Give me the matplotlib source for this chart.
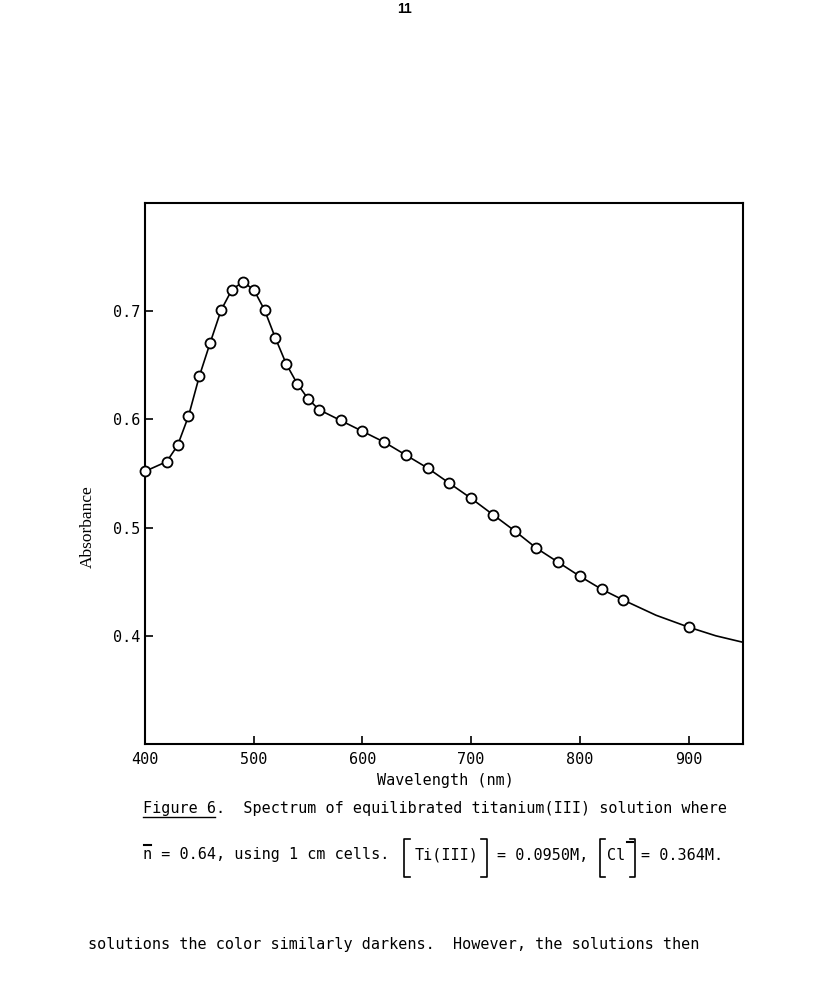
import numpy as np
import matplotlib
matplotlib.use("Agg")
import matplotlib.pyplot as plt
from matplotlib.lines import Line2D

# measured points (open circles)
WL = [400, 420, 430, 440, 450, 460, 470, 480, 490, 500, 510, 520, 530, 540, 550, 560,
      580, 600, 620, 640, 660, 680, 700, 720, 740, 760, 780, 800, 820, 840, 900]
ABS = [0.552, 0.561, 0.576, 0.603, 0.640, 0.671, 0.701, 0.720, 0.727, 0.720, 0.701, 0.675,
       0.651, 0.633, 0.619, 0.609, 0.599, 0.589, 0.579, 0.567, 0.555, 0.541, 0.527, 0.512,
       0.497, 0.481, 0.468, 0.455, 0.443, 0.433, 0.408]
# extra points of the drawn curve (no marker)
CURVE_WL = [870, 925, 950]
CURVE_ABS = [0.419, 0.400, 0.394]

XTICKS = [400, 500, 600, 700, 800, 900]
YTICKS = [0.4, 0.5, 0.6, 0.7]

W, H = 818, 986
MONO = "DejaVu Sans Mono"
FS = 10.9


def px(x, y):
    return x / W, 1 - y / H


def pline(fig, xs, ys, lw=1.2):
    fx = [x / W for x in xs]
    fy = [1 - y / H for y in ys]
    fig.add_artist(Line2D(fx, fy, transform=fig.transFigure, color="k", lw=lw))


def bracket(fig, x, y0, y1, side, arm=6):
    d = arm if side == "left" else -arm
    pline(fig, [x + d, x, x, x + d], [y0, y0, y1, y1])


fig = plt.figure(figsize=(W / 100, H / 100), dpi=100)
ax = fig.add_axes([145 / W, 1 - 744 / H, (743 - 145) / W, (744 - 203) / H])

lw_ = sorted(zip(WL + CURVE_WL, ABS + CURVE_ABS))
ax.plot([p[0] for p in lw_], [p[1] for p in lw_], color="k", lw=1.2, zorder=2)
ax.plot(WL, ABS, ls="", marker="o", ms=7.2, mfc="white", mec="k", mew=1.3,
        zorder=3, clip_on=False)

ax.set_xlim(400, 950)
ax.set_ylim(0.30, 0.80)
ax.set_xticks(XTICKS)
ax.set_yticks(YTICKS)
ax.set_yticklabels([f"{v:.1f}" for v in YTICKS])
ax.tick_params(direction="in", length=6, width=1.2, pad=6, labelsize=FS)
ax.tick_params(axis="y", pad=3)
for lab in ax.get_xticklabels() + ax.get_yticklabels():
    lab.set_family(MONO)
for s in ax.spines.values():
    s.set_linewidth(1.5)

fig.text(*px(445, 780), "Wavelength (nm)", family=MONO, fontsize=FS, ha="center", va="center")
fig.text(*px(88, 527), "Absorbance", family="Liberation Serif", fontsize=12.5,
         rotation=90, ha="center", va="center")

# caption
y1 = 808
fig.text(*px(143, y1), "Figure 6.  Spectrum of equilibrated titanium(III) solution where",
         family=MONO, fontsize=FS, ha="left", va="center")
pline(fig, [143, 215], [y1 + 9, y1 + 9], lw=1.0)

y2 = 855
fig.text(*px(143, y2), "n = 0.64, using 1 cm cells.", family=MONO, fontsize=FS,
         ha="left", va="center")
pline(fig, [144, 151], [y2 - 10, y2 - 10], lw=1.5)
bracket(fig, 404, y2 - 16, y2 + 22, "left")
fig.text(*px(415, y2), "Ti(III)", family=MONO, fontsize=FS, ha="left", va="center")
bracket(fig, 487, y2 - 16, y2 + 22, "right")
fig.text(*px(497, y2), "= 0.0950M,", family=MONO, fontsize=FS, ha="left", va="center")
bracket(fig, 600, y2 - 16, y2 + 22, "left", arm=5)
fig.text(*px(607, y2), "Cl", family=MONO, fontsize=FS, ha="left", va="center")
pline(fig, [627, 633], [y2 - 13, y2 - 13], lw=1.5)
bracket(fig, 635, y2 - 16, y2 + 22, "right", arm=5)
fig.text(*px(641, y2), "= 0.364M.", family=MONO, fontsize=FS, ha="left", va="center")

fig.text(*px(88, 945), "solutions the color similarly darkens.  However, the solutions then",
         family=MONO, fontsize=FS, ha="left", va="center")
fig.text(*px(405, 9), "11", family="Liberation Sans", fontweight="bold", fontsize=10,
         ha="center", va="center")

fig.savefig("out.png", dpi=100)
